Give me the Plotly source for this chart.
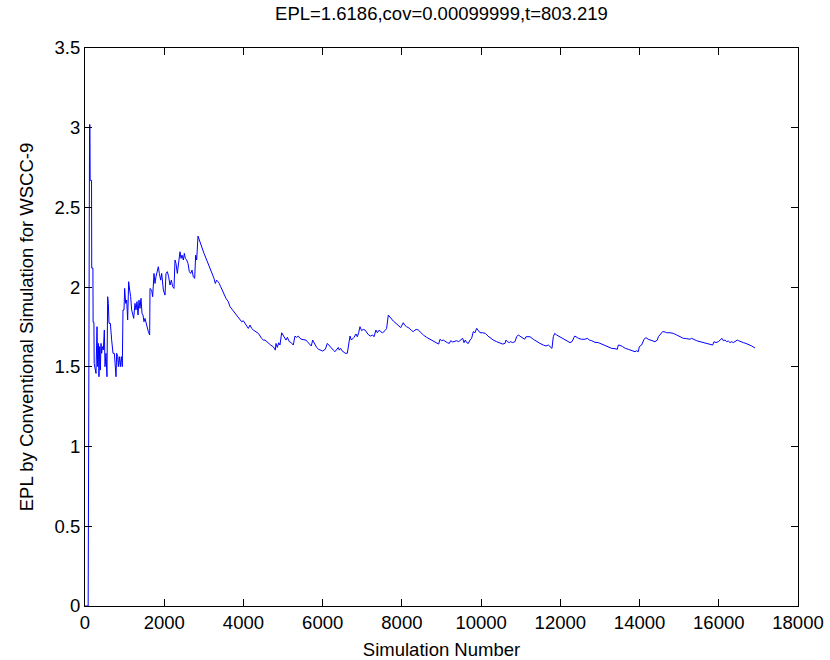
import plotly.graph_objects as go

sim_number = [
    1, 80, 115, 125, 130, 165, 170, 200, 205, 225, 232,
    278, 303, 320, 337, 353, 370, 387, 404, 421, 438, 463, 488, 505, 530, 555, 572, 589, 606, 640,
    673, 707, 741, 757, 783, 799, 825, 842, 867, 892, 917, 942, 959, 985, 1001, 1027, 1052, 1077,
    1102, 1128, 1153, 1178, 1203, 1229, 1262, 1287, 1313, 1338, 1363, 1388, 1414, 1439, 1464, 1489,
    1515, 1540, 1565, 1599, 1633,
    1641, 1683, 1708, 1742, 1767, 1792, 1826, 1851, 1877, 1910, 1936, 1978, 2020, 2045, 2079, 2112,
    2146, 2180, 2213, 2247, 2272, 2297, 2331, 2365, 2398, 2424, 2449, 2483, 2508, 2533, 2567, 2600,
    2634, 2668, 2701, 2735, 2769, 2794, 2819, 2853, 2886, 2945, 3004, 3072, 3139, 3198, 3257, 3290,
    3324, 3358, 3391, 3425, 3492, 3560, 3619, 3661, 3728, 3787, 3846, 3913, 3955, 3997, 4039, 4081,
    4123, 4166, 4208, 4250, 4317, 4376, 4460, 4502, 4544, 4586, 4637, 4687, 4754, 4805,
    4821, 4855, 4889, 4922, 4965, 5007, 5040, 5074, 5108, 5158, 5209, 5259, 5301, 5343, 5385, 5427,
    5478, 5528, 5579, 5612, 5663, 5713, 5747, 5806, 5848, 5899, 5949, 6000, 6033, 6067, 6117, 6168,
    6218, 6269, 6311, 6353, 6395, 6420, 6454, 6488, 6521, 6572, 6622, 6656, 6690, 6723, 6757, 6791,
    6841, 6875, 6908, 6942, 6984, 7026, 7068, 7110, 7161, 7211, 7262, 7296, 7346, 7380, 7430, 7464,
    7514, 7573, 7615, 7657, 7716, 7784, 7851, 7910, 7969,
    8036, 8070, 8120, 8188, 8247, 8289, 8331, 8373, 8415, 8474, 8541, 8625, 8709, 8794, 8878, 8928,
    8962, 9004, 9046, 9096, 9147, 9197, 9231, 9282, 9332, 9383, 9433, 9484, 9534, 9568, 9601, 9635,
    9677, 9719, 9761, 9803, 9845, 9887, 9930, 9972, 10039, 10106, 10174, 10241, 10308, 10392, 10477,
    10544, 10603, 10628, 10662, 10712, 10746, 10796, 10855, 10897, 10939, 10998, 11049, 11099, 11133,
    11234, 11318, 11402, 11486, 11571, 11638, 11697, 11756, 11789, 11823, 11857, 11907, 11991, 12076,
    12160, 12244, 12294, 12328, 12362, 12395, 12454, 12538, 12622, 12681, 12732, 12791, 12875, 12959,
    13043, 13127, 13212, 13296, 13380, 13439, 13464, 13506, 13573, 13641, 13716, 13801, 13885, 13927,
    13969, 13994, 14053, 14112, 14162, 14221, 14305, 14390, 14448, 14474, 14533,
    14583, 14642, 14684, 14768, 14853, 14937, 15021, 15105, 15189, 15273, 15315, 15358, 15442, 15526,
    15610, 15694, 15778, 15846, 15879, 15930, 15989, 16048, 16081, 16115, 16157, 16199, 16241, 16283,
    16325, 16367, 16418, 16468, 16502, 16552, 16620, 16687, 16754, 16830, 16914,
]

epl_values = [
    0, 0, 3.02, 3.02, 2.67, 2.67, 2.12, 2.12, 1.78, 1.78, 1.52,
    1.459, 1.752, 1.501, 1.647, 1.438, 1.627, 1.480, 1.647, 1.585, 1.627, 1.606, 1.731, 1.501, 1.585,
    1.438, 1.940, 1.898, 1.773, 1.773, 1.668, 1.585, 1.585, 1.501, 1.438, 1.585, 1.564, 1.501, 1.564,
    1.501, 1.564, 1.501, 1.857, 1.857, 1.992, 1.898, 1.919, 1.794, 2.034, 1.982, 1.940, 1.857, 1.836,
    1.804, 1.898, 1.857, 1.909, 1.825, 1.919, 1.867, 1.930, 1.836, 1.825, 1.783, 1.804, 1.773, 1.752,
    1.721, 1.700,
    1.992, 1.982, 1.940, 2.086, 2.023, 2.065, 2.107, 2.128, 2.086, 2.044, 2.086, 1.982, 1.950, 2.086,
    2.097, 2.065, 2.013, 2.044, 2.003, 1.992, 2.170, 2.149, 2.086, 2.159, 2.222, 2.180, 2.201, 2.170,
    2.212, 2.180, 2.170, 2.149, 2.097, 2.086, 2.107, 2.065, 2.055, 2.201, 2.170, 2.320, 2.295, 2.253,
    2.212, 2.170, 2.128, 2.097, 2.055, 2.023, 2.044, 2.034, 2.023, 2.003, 1.961, 1.929, 1.908, 1.877,
    1.856, 1.835, 1.814, 1.793, 1.783, 1.789, 1.773, 1.752, 1.741, 1.762, 1.741, 1.731, 1.720, 1.710,
    1.678, 1.668, 1.668, 1.658, 1.647, 1.637, 1.626, 1.605,
    1.647, 1.622, 1.651, 1.637, 1.714, 1.693, 1.685, 1.668, 1.685, 1.658, 1.651, 1.637, 1.693, 1.685,
    1.693, 1.679, 1.672, 1.668, 1.668, 1.658, 1.643, 1.631, 1.668, 1.637, 1.622, 1.610, 1.605, 1.599,
    1.605, 1.610, 1.647, 1.631, 1.616, 1.605, 1.595, 1.610, 1.622, 1.605, 1.616, 1.601, 1.595, 1.585,
    1.585, 1.658, 1.693, 1.668, 1.677, 1.685, 1.706, 1.689, 1.714, 1.752, 1.727, 1.735, 1.731, 1.714,
    1.700, 1.693, 1.700, 1.689, 1.731, 1.714, 1.731, 1.720, 1.714, 1.727, 1.741, 1.825, 1.804, 1.787,
    1.773, 1.756, 1.746,
    1.777, 1.762, 1.752, 1.742, 1.727, 1.721, 1.731, 1.735, 1.731, 1.714, 1.700, 1.685, 1.673, 1.658,
    1.647, 1.643, 1.673, 1.664, 1.668, 1.658, 1.652, 1.647, 1.664, 1.656, 1.662, 1.664, 1.658, 1.668,
    1.679, 1.652, 1.668, 1.652, 1.647, 1.668, 1.679, 1.721, 1.714, 1.742, 1.731, 1.714, 1.714, 1.710,
    1.693, 1.679, 1.668, 1.658, 1.647, 1.643, 1.647, 1.668, 1.658, 1.652, 1.658, 1.652, 1.658, 1.689,
    1.700, 1.689, 1.679, 1.673, 1.689,
    1.689, 1.673, 1.658, 1.647, 1.637, 1.631, 1.637, 1.622, 1.616, 1.689, 1.710, 1.700, 1.689, 1.679,
    1.668, 1.652, 1.658, 1.673, 1.693, 1.689, 1.679, 1.673, 1.673, 1.679, 1.668, 1.664, 1.654, 1.652,
    1.643, 1.631, 1.622, 1.616, 1.614, 1.610, 1.637, 1.635, 1.627, 1.616, 1.610, 1.601, 1.595, 1.601,
    1.595, 1.627, 1.637, 1.673, 1.683, 1.673, 1.664, 1.658, 1.668, 1.689, 1.706,
    1.721, 1.719, 1.714, 1.714, 1.710, 1.700, 1.689, 1.679, 1.677, 1.673, 1.679, 1.673, 1.664, 1.658,
    1.652, 1.643, 1.637, 1.637, 1.658, 1.652, 1.658, 1.668, 1.679, 1.664, 1.668, 1.658, 1.662, 1.652,
    1.658, 1.652, 1.658, 1.668, 1.664, 1.658, 1.652, 1.647, 1.637, 1.631, 1.6186,
]

x_ticks = [0, 2000, 4000, 6000, 8000, 10000, 12000, 14000, 16000, 18000]
y_ticks = [0, 0.5, 1, 1.5, 2, 2.5, 3, 3.5]
y_tick_labels = ["0", "0.5", "1", "1.5", "2", "2.5", "3", "3.5"]

title_text = "EPL=1.6186,cov=0.00099999,t=803.219"
x_label = "Simulation Number"
y_label = "EPL by Conventional Simulation for WSCC-9"

FONT = "Liberation Sans, Arial, sans-serif"
FS = 18.5

fig = go.Figure()
fig.add_trace(go.Scatter(
    x=sim_number, y=epl_values, mode="lines",
    line=dict(color="#0000ff", width=1),
    showlegend=False, hoverinfo="skip",
))

axis_common = dict(
    showgrid=False, zeroline=False, showline=True, linecolor="black", linewidth=1,
    mirror="ticks", ticks="inside", ticklen=7, tickwidth=1, tickcolor="black",
    tickfont=dict(family=FONT, size=FS, color="black"), automargin=False,
)

fig.update_layout(
    width=830, height=660,
    margin=dict(l=85, r=32, t=48, b=54),
    paper_bgcolor="white", plot_bgcolor="white",
    title=dict(text=title_text, x=0.5, xanchor="center", xref="paper",
               y=1 - 14 / 660, yanchor="middle",
               font=dict(family=FONT, size=FS, color="black")),
    xaxis=dict(range=[0, 18000], tickvals=x_ticks, ticktext=[str(v) for v in x_ticks],
               title=dict(text=x_label, standoff=12, font=dict(family=FONT, size=FS, color="black")),
               **axis_common),
    yaxis=dict(range=[0, 3.5], tickvals=y_ticks, ticktext=y_tick_labels,
               title=dict(text=y_label, standoff=16, font=dict(family=FONT, size=FS, color="black")),
               **axis_common),
)

fig.write_html("out.html")
